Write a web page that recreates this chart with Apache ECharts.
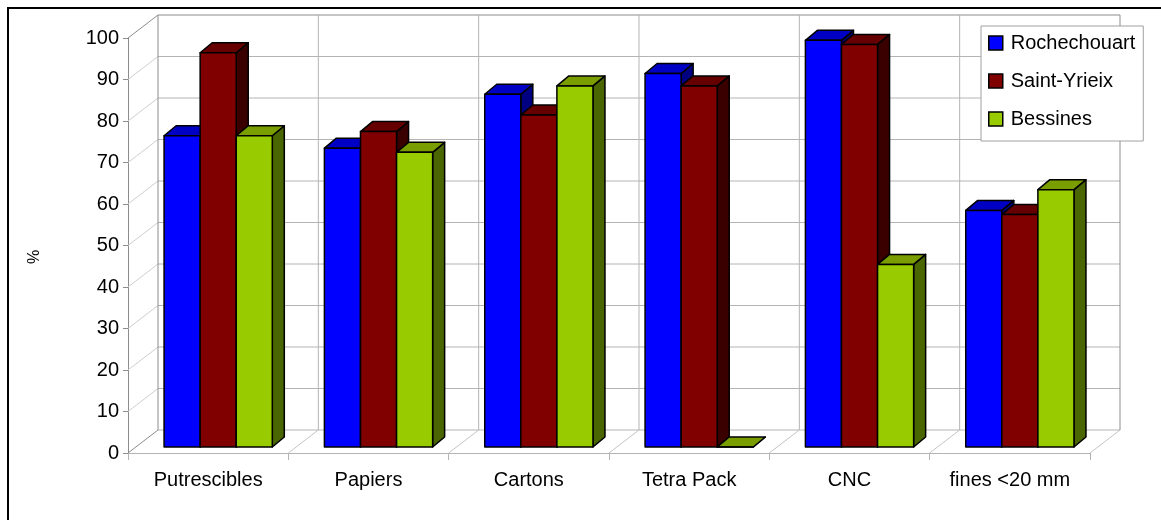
<!DOCTYPE html>
<html>
<head>
<meta charset="utf-8">
<style>
  html, body { margin: 0; padding: 0; background: #fff; }
  #chart { width: 1161px; height: 520px; }
</style>
<script src="https://cdn.jsdelivr.net/npm/echarts@6/dist/echarts.min.js"></script>
</head>
<body>
<div id="chart"></div>
<script>
// Waste categories and sorting rate (%) per site
var categories = ['Putrescibles', 'Papiers', 'Cartons', 'Tetra Pack', 'CNC', 'fines <20 mm'];
var seriesNames = ['Rochechouart', 'Saint-Yrieix', 'Bessines'];
var rochechouart = [75, 72, 85, 90, 98, 57];
var saintYrieix = [95, 76, 80, 87, 97, 56];
var bessines = [75, 71, 87, 0, 44, 62];
var yTicks = [0, 10, 20, 30, 40, 50, 60, 70, 80, 90, 100];
var yUnit = '%';

var FONT = '"Liberation Sans", Arial, sans-serif';

// Face colours for each site: front, top, side
var palettes = [
  { front: '#0000ff', top: '#0000c4', side: '#000080' },
  { front: '#800000', top: '#660000', side: '#3a0000' },
  { front: '#99cc00', top: '#7a9e00', side: '#4a6600' }
];

// Depth of the chart box (back wall offset) and of each bar
var WALL = { dx: 30, dy: -23 };
var BAR = { dx: 12, dy: -10, shiftY: -6, start: -0.275, width: 0.225 };

var chart = echarts.init(document.getElementById('chart'), null, { renderer: 'canvas' });

// Back wall, side wall and floor drawn in pseudo-3D
function renderFrame(params, api) {
  var children = [];
  var lineGrid = { stroke: '#b4b4b4', lineWidth: 1 };
  var lineEdge = { stroke: '#8c8c8c', lineWidth: 1 };
  var n = categories.length;
  var bw = api.size([1, 0])[0];
  var x0 = api.coord([0, 0])[0] - bw / 2;
  var x1 = x0 + n * bw;
  var yMax = yTicks[yTicks.length - 1];
  yTicks.forEach(function (v) {
    var y = api.coord([0, v])[1];
    // back wall horizontal
    children.push({ type: 'line', shape: { x1: x0 + WALL.dx, y1: y + WALL.dy, x2: x1 + WALL.dx, y2: y + WALL.dy },
      style: v === yMax ? lineEdge : lineGrid });
    // side wall diagonal
    children.push({ type: 'line', shape: { x1: x0, y1: y, x2: x0 + WALL.dx, y2: y + WALL.dy },
      style: (v === yMax || v === 0) ? lineEdge : { stroke: '#cfcfcf', lineWidth: 1 } });
  });
  var yb = api.coord([0, 0])[1];
  var yt = api.coord([0, yMax])[1];
  for (var k = 0; k <= n; k++) {
    var xb = x0 + k * bw;
    // back wall vertical
    children.push({ type: 'line', shape: { x1: xb + WALL.dx, y1: yt + WALL.dy, x2: xb + WALL.dx, y2: yb + WALL.dy },
      style: (k === 0 || k === n) ? lineEdge : lineGrid });
    // floor diagonal
    if (k > 0) {
      children.push({ type: 'line', shape: { x1: xb, y1: yb, x2: xb + WALL.dx, y2: yb + WALL.dy },
        style: { stroke: '#c4c4c4', lineWidth: 1 } });
    }
  }
  return { type: 'group', children: children, silent: true };
}

// One 3D box per value: side, top and front faces
function makeBarRenderer(seriesIdx) {
  var pal = palettes[seriesIdx];
  return function (params, api) {
    var i = api.value(0);
    var v = api.value(1);
    var bw = api.size([1, 0])[0];
    var cx = api.coord([i, 0])[0];
    var w = BAR.width * bw;
    var xl = cx + BAR.start * bw + seriesIdx * w;
    var xr = xl + w;
    var bottom = api.coord([i, 0])[1] + BAR.shiftY;
    var top = api.coord([i, v])[1] + BAR.shiftY;
    var dx = BAR.dx, dy = BAR.dy;
    var edge = { stroke: '#000', lineWidth: 1.5, lineJoin: 'round' };
    return {
      type: 'group',
      children: [
        { type: 'polygon', shape: { points: [[xr, top], [xr + dx, top + dy], [xr + dx, bottom + dy], [xr, bottom]] },
          style: Object.assign({ fill: pal.side }, edge) },
        { type: 'polygon', shape: { points: [[xl, top], [xr, top], [xr + dx, top + dy], [xl + dx, top + dy]] },
          style: Object.assign({ fill: pal.top }, edge) },
        { type: 'rect', shape: { x: xl, y: top, width: w, height: bottom - top },
          style: Object.assign({ fill: pal.front }, edge) }
      ]
    };
  };
}

var siteValues = [rochechouart, saintYrieix, bessines];
var barSeries = seriesNames.map(function (name, s) {
  return {
    type: 'custom',
    name: name,
    renderItem: makeBarRenderer(s),
    itemStyle: { color: palettes[s].front },
    encode: { x: 0, y: 1 },
    data: siteValues[s].map(function (v, i) { return [i, v]; }),
    z: 3 + s
  };
});

var option = {
  backgroundColor: '#ffffff',
  animation: false,
  textStyle: { fontFamily: FONT },
  grid: { left: 128, right: 71, top: 38, bottom: 67, containLabel: false },
  xAxis: {
    type: 'category',
    data: categories,
    axisLine: { show: true, lineStyle: { color: '#b4b4b4', width: 1 } },
    axisTick: { show: true, length: 7, lineStyle: { color: '#b4b4b4' } },
    axisLabel: { fontSize: 20, color: '#000', margin: 17, fontFamily: FONT },
    splitLine: { show: false }
  },
  yAxis: {
    type: 'value',
    min: 0,
    max: 100,
    interval: 10,
    axisLine: { show: true, lineStyle: { color: '#8c8c8c', width: 1 } },
    axisTick: { show: true, length: 5, lineStyle: { color: '#8c8c8c' } },
    axisLabel: { fontSize: 20, color: '#000', margin: 9, fontFamily: FONT },
    splitLine: { show: false }
  },
  legend: {
    orient: 'vertical',
    left: 981,
    top: 26,
    backgroundColor: '#ffffff',
    borderColor: '#a0a0a0',
    borderWidth: 1,
    padding: [7, 8, 12, 7],
    itemWidth: 14,
    itemHeight: 14,
    itemGap: 18,
    textStyle: { fontSize: 20, color: '#000', lineHeight: 20, fontFamily: FONT, padding: [0, 0, 0, 3] },
    data: seriesNames.map(function (name, s) {
      return { name: name, icon: 'rect', itemStyle: { color: palettes[s].front, borderColor: '#000', borderWidth: 1.5 } };
    })
  },
  graphic: [
    { type: 'rect', shape: { x: 8, y: 8, width: 1180, height: 540 },
      style: { fill: 'none', stroke: '#000', lineWidth: 2 }, silent: true, z: 100 },
    // y-axis unit, rotated
    { type: 'text', x: 35, y: 257, rotation: Math.PI / 2, silent: true,
      style: { text: yUnit, font: '16px ' + FONT, fill: '#000', align: 'center', verticalAlign: 'middle' } }
  ],
  series: [
    {
      type: 'custom',
      name: 'frame',
      renderItem: renderFrame,
      data: [[0, 0]],
      encode: { x: 0, y: 1 },
      silent: true,
      z: 1
    }
  ].concat(barSeries)
};

chart.setOption(option);
</script>
</body>
</html>
